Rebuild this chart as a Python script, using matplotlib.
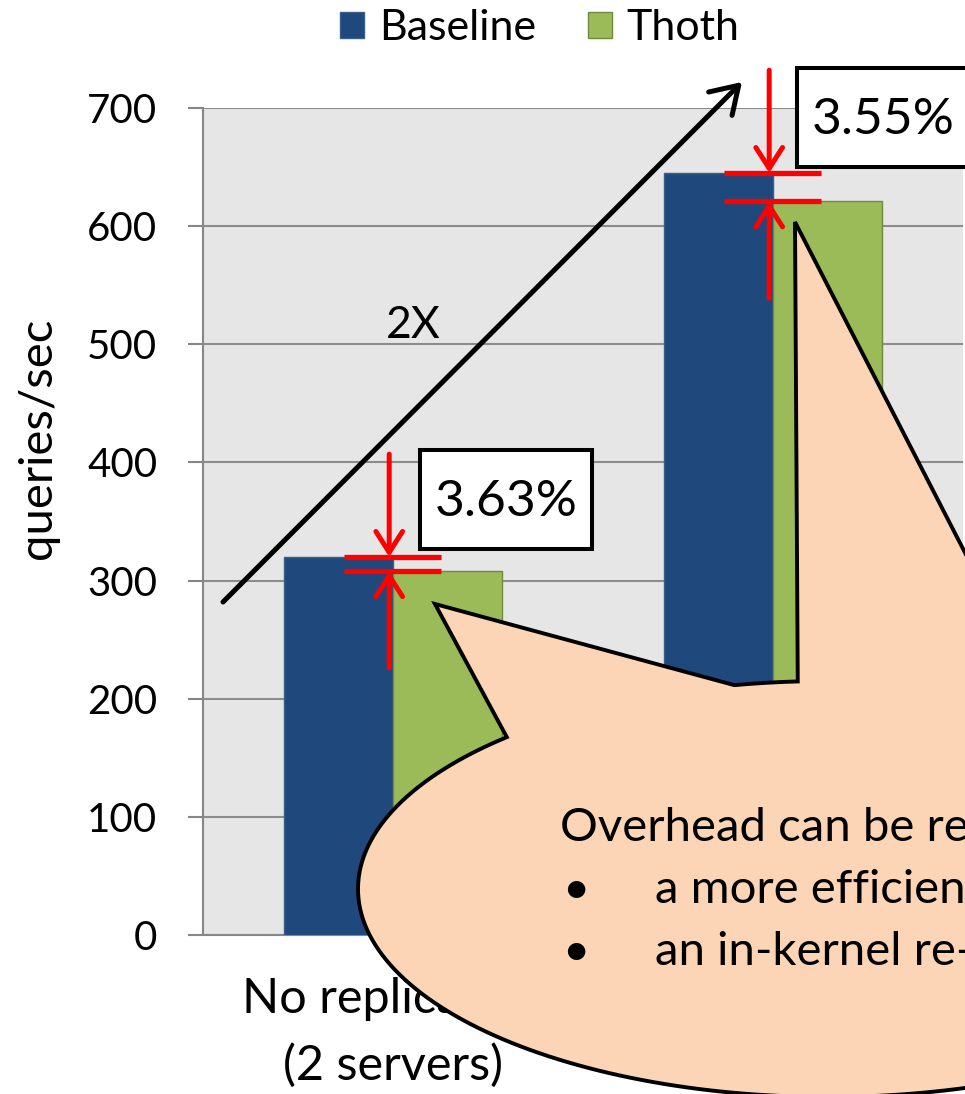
import numpy as np
import matplotlib.pyplot as plt
from matplotlib.patches import Patch, Rectangle, Polygon

plt.rcParams['font.family'] = ['Lato', 'DejaVu Sans']

# data
categories = ['No replication\n(2 servers)', 'Replication\n(4 servers)']
baseline = [320, 645]
thoth = [308, 621]
overhead_labels = ['3.63%', '3.55%']
yticks = [0, 100, 200, 300, 400, 500, 600, 700]

BLUE = '#1F497D'
GREEN = '#9BBB59'
PEACH = '#FBD5B5'

W, H = 965, 1094
fig = plt.figure(figsize=(W / 100, H / 100), dpi=100)
ax = fig.add_axes([203 / W, 159 / H, 760 / W, 827 / H])

x = np.arange(len(categories))
w = 0.286
ax.bar(x - w / 2, baseline, w, color=BLUE, edgecolor='#385D8A', linewidth=1, zorder=3)
ax.bar(x + w / 2, thoth, w, color=GREEN, edgecolor='#71893F', linewidth=1, zorder=3)

ax.set_xlim(-0.5, 1.5)
ax.set_ylim(0, 700)
ax.set_facecolor('#E6E6E6')
ax.set_yticks(yticks)
ax.set_xticks(x)
ax.set_xticklabels(categories, fontsize=35, linespacing=1.6)
ax.tick_params(axis='x', length=0, pad=30)
ax.tick_params(axis='y', labelsize=29, length=11, width=1.5, color='#868686', pad=22)
ax.grid(axis='y', color='#8C8C8C', linewidth=1.5, zorder=0)
for s in ['top', 'right']:
    ax.spines[s].set_visible(False)
for s in ['left', 'bottom']:
    ax.spines[s].set_color('#868686')
    ax.spines[s].set_linewidth(1.5)
ax.set_ylabel('queries/sec', fontsize=34)
ax.yaxis.set_label_coords(-0.19, 0.6)

# red overhead markers
for i in range(len(categories)):
    xa = x[i] - 0.01
    for v in (baseline[i], thoth[i]):
        ax.plot([x[i] - 0.128, x[i] + 0.125], [v, v], color='red', lw=3.8,
                solid_capstyle='butt', clip_on=False, zorder=6)
    red = dict(arrowstyle='->,head_length=0.5,head_width=0.32', color='red', lw=3.6,
               shrinkA=0, shrinkB=0, mutation_scale=30)
    ax.annotate('', xy=(xa, baseline[i]), xytext=(xa, baseline[i] + 87),
                arrowprops=red, annotation_clip=False, zorder=6)
    ax.annotate('', xy=(xa, thoth[i]), xytext=(xa, thoth[i] - 82),
                arrowprops=red, annotation_clip=False, zorder=6)

# legend
handles = [Patch(facecolor=BLUE, edgecolor='#385D8A'), Patch(facecolor=GREEN, edgecolor='#71893F')]
fig.legend(handles, ['Baseline', 'Thoth'], loc='center', bbox_to_anchor=(540 / W, 1 - 28 / H),
           ncol=2, frameon=False, fontsize=31, handlelength=0.55, handleheight=0.55,
           handletextpad=0.35, columnspacing=1.2, borderpad=0)

# overlay in pixel coordinates for the slide annotations
ov = fig.add_axes([0, 0, 1, 1], facecolor='none')
ov.set_xlim(0, W)
ov.set_ylim(H, 0)
ov.axis('off')

ov.annotate('', xy=(742, 82), xytext=(223, 602),
            arrowprops=dict(arrowstyle='->,head_length=0.55,head_width=0.35', color='black',
                            lw=3.6, shrinkA=0, shrinkB=0, mutation_scale=34))
ov.text(413, 325, '2X', fontsize=32, ha='center', va='center')

for (bx, by), lab in zip([(420, 450), (797, 68)], overhead_labels):
    ov.add_patch(Rectangle((bx, by), 172, 99, facecolor='white', edgecolor='black', lw=2.9, zorder=5))
    ov.text(bx + 86, by + 52, lab, fontsize=37, ha='center', va='center', zorder=6)

# speech bubble (ellipse with two tails)
cx, cy, a, b = 828, 889, 470, 208
t1 = np.linspace(5.187, 3.96 + 2 * np.pi, 200)
t2 = np.linspace(4.512, 4.648, 10)
pts = [(cx + a * np.cos(t), cy + b * np.sin(t)) for t in t1]
pts.append((435, 604))
pts += [(cx + a * np.cos(t), cy + b * np.sin(t)) for t in t2]
pts.append((795, 222))
ov.add_patch(Polygon(pts, closed=True, facecolor=PEACH, edgecolor='black', lw=2.8, zorder=7))

ov.text(560, 828, 'Overhead can be reduced with:', fontsize=34, va='center', zorder=8)
for yy, line in [(890, 'a more efficient implementation'), (952, 'an in-kernel re-implementation')]:
    ov.text(562, yy, '\u2022', fontsize=34, va='center', zorder=8)
    ov.text(655, yy, line, fontsize=34, va='center', zorder=8)

fig.savefig('out.png', dpi=100)
